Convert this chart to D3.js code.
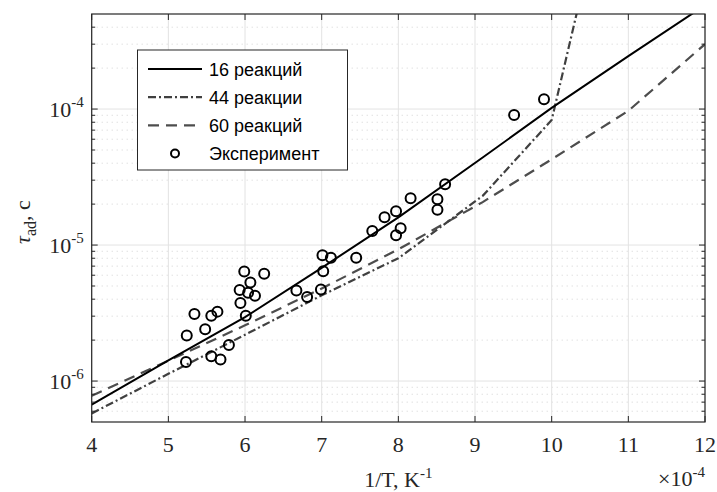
<!DOCTYPE html>
<html>
<head>
<meta charset="utf-8">
<script src="https://d3js.org/d3.v7.min.js"></script>
<style>
  body { margin: 0; background: #fff; }
</style>
</head>
<body>
<svg id="vis"></svg>
<script>
  // model curves, 1/T in units of 1e-4 K^-1, tau in seconds
  var xNodes = [4, 5, 6, 7, 8, 9.1, 10, 11, 12]
  var tau16 = [6.7e-7, 1.42e-6, 2.95e-6, 6.8e-6, 1.6e-5, 4.4e-5, 1.02e-4, 2.45e-4, 5.8e-4]
  var x44 = [4, 5, 6, 7, 8, 9.1, 10, 11]
  var tau44 = [5.78e-7, 1.13e-6, 2.19e-6, 4.27e-6, 8.0e-6, 2.3e-5, 8.3e-5, 2.1e-2]
  var tau60 = [7.8e-7, 1.41e-6, 2.57e-6, 4.79e-6, 9.3e-6, 2.07e-5, 4.27e-5, 9.7e-5, 3.0e-4]

  // experiment
  var expX = [5.23, 5.24, 5.34, 5.48, 5.56, 5.56, 5.64, 5.68, 5.79, 5.94, 5.93, 5.99,
              6.01, 6.04, 6.07, 6.13, 6.25, 6.67, 6.81, 6.99, 7.01, 7.02, 7.12, 7.45,
              7.66, 7.82, 7.97, 7.97, 8.03, 8.16, 8.51, 8.51, 8.61, 9.51, 9.90]
  var expY = [1.38e-6, 2.16e-6, 3.11e-6, 2.40e-6, 1.52e-6, 3.02e-6, 3.24e-6, 1.44e-6, 1.84e-6, 3.75e-6, 4.67e-6, 6.40e-6,
              3.02e-6, 4.46e-6, 5.30e-6, 4.24e-6, 6.15e-6, 4.63e-6, 4.15e-6, 4.72e-6, 8.43e-6, 6.43e-6, 8.07e-6, 8.07e-6,
              1.27e-5, 1.60e-5, 1.77e-5, 1.18e-5, 1.33e-5, 2.21e-5, 2.17e-5, 1.82e-5, 2.80e-5, 9.05e-5, 1.18e-4]

  var xTicks = [4, 5, 6, 7, 8, 9, 10, 11, 12]
  var yTicks = [1e-6, 1e-5, 1e-4]
  var yExp = ['-6', '-5', '-4']
  var legendLabels = ['16 реакций', '44 реакции', '60 реакций', 'Эксперимент']

  var W = 717, H = 492
  var m = {left: 91.7, right: 12, top: 14, bottom: 70}
  var serif = 'Liberation Serif, Times New Roman, serif'
  var sans = 'Liberation Sans, Arial, sans-serif'
  var axisColor = '#262626'

  var svg = d3.select('#vis').attr('width', W).attr('height', H)

  var x = d3.scaleLinear().domain([4, 12]).range([m.left, W - m.right])
  var y = d3.scaleLog().domain([5e-7, 5e-4]).range([H - m.bottom, m.top])

  svg.append('clipPath').attr('id', 'clip')
    .append('rect')
    .attr('x', m.left).attr('y', m.top)
    .attr('width', W - m.left - m.right).attr('height', H - m.top - m.bottom)

  // minor grid (y, log)
  var minor = []
  ;[1e-7, 1e-6, 1e-5, 1e-4].forEach(function(d) {
    for (var k = 2; k <= 9; k++) {
      var v = d * k
      if (v > 5e-7 && v < 5e-4) minor.push(v)
    }
  })

  svg.selectAll('.minor').data(minor).enter().append('line')
    .attr('x1', m.left).attr('x2', W - m.right)
    .attr('y1', d => y(d)).attr('y2', d => y(d))
    .attr('stroke', '#c8c8c8').attr('stroke-width', 0.8)
    .attr('stroke-dasharray', '1,4')

  svg.selectAll('.xgrid').data(xTicks).enter().append('line')
    .attr('x1', d => x(d)).attr('x2', d => x(d))
    .attr('y1', m.top).attr('y2', H - m.bottom)
    .attr('stroke', '#e3e3e3').attr('stroke-width', 1)

  svg.selectAll('.ygrid').data(yTicks).enter().append('line')
    .attr('x1', m.left).attr('x2', W - m.right)
    .attr('y1', d => y(d)).attr('y2', d => y(d))
    .attr('stroke', '#e3e3e3').attr('stroke-width', 1)

  // lines
  var plot = svg.append('g').attr('clip-path', 'url(#clip)')
  var line = d3.line().x(d => x(d[0])).y(d => y(d[1]))

  plot.append('path').datum(d3.zip(xNodes, tau60))
    .attr('d', line).attr('fill', 'none')
    .attr('stroke', '#4d4d4d').attr('stroke-width', 2.2)
    .attr('stroke-dasharray', '11,7')

  plot.append('path').datum(d3.zip(x44, tau44))
    .attr('d', line).attr('fill', 'none')
    .attr('stroke', '#404040').attr('stroke-width', 2.2)
    .attr('stroke-dasharray', '8,3,2,3')

  plot.append('path').datum(d3.zip(xNodes, tau16))
    .attr('d', line).attr('fill', 'none')
    .attr('stroke', '#000').attr('stroke-width', 2)

  plot.selectAll('circle').data(d3.zip(expX, expY)).enter().append('circle')
    .attr('cx', d => x(d[0])).attr('cy', d => y(d[1]))
    .attr('r', 5).attr('fill', 'none')
    .attr('stroke', '#000').attr('stroke-width', 2)

  // box + ticks
  svg.append('rect')
    .attr('x', m.left).attr('y', m.top)
    .attr('width', W - m.left - m.right).attr('height', H - m.top - m.bottom)
    .attr('fill', 'none').attr('stroke', axisColor).attr('stroke-width', 1.2)

  xTicks.forEach(function(t) {
    svg.append('line').attr('x1', x(t)).attr('x2', x(t))
      .attr('y1', H - m.bottom).attr('y2', H - m.bottom - 6)
      .attr('stroke', axisColor)
    svg.append('line').attr('x1', x(t)).attr('x2', x(t))
      .attr('y1', m.top).attr('y2', m.top + 6)
      .attr('stroke', axisColor)
    svg.append('text').attr('x', x(t)).attr('y', 452)
      .attr('text-anchor', 'middle')
      .attr('font-family', serif).attr('font-size', 22).attr('fill', axisColor)
      .text(t)
  })

  yTicks.concat(minor).forEach(function(t) {
    var len = yTicks.indexOf(t) >= 0 ? 6 : 3.5
    svg.append('line').attr('x1', m.left).attr('x2', m.left + len)
      .attr('y1', y(t)).attr('y2', y(t)).attr('stroke', axisColor)
    svg.append('line').attr('x1', W - m.right).attr('x2', W - m.right - len)
      .attr('y1', y(t)).attr('y2', y(t)).attr('stroke', axisColor)
  })

  yTicks.forEach(function(t, i) {
    var tx = svg.append('text').attr('x', m.left - 8).attr('y', y(t) + 8)
      .attr('text-anchor', 'end')
      .attr('font-family', serif).attr('font-size', 22).attr('fill', axisColor)
    tx.append('tspan').text('10')
    tx.append('tspan').attr('dy', -10).attr('font-size', 15).text(yExp[i])
  })

  // axis labels
  var xl = svg.append('text').attr('x', (m.left + W - m.right) / 2).attr('y', 487)
    .attr('text-anchor', 'middle')
    .attr('font-family', serif).attr('font-size', 22).attr('fill', axisColor)
  xl.append('tspan').text('1/T, K')
  xl.append('tspan').attr('dy', -9).attr('font-size', 15).text('-1')

  var ex = svg.append('text').attr('x', W - m.right).attr('y', 486)
    .attr('text-anchor', 'end')
    .attr('font-family', serif).attr('font-size', 22).attr('fill', axisColor)
  ex.append('tspan').text('\u00d710')
  ex.append('tspan').attr('dy', -9).attr('font-size', 15).text('-4')

  var yl = svg.append('text')
    .attr('transform', 'translate(30,' + ((m.top + H - m.bottom) / 2 + 4) + ') rotate(-90)')
    .attr('text-anchor', 'middle')
    .attr('font-family', serif).attr('font-size', 22).attr('fill', axisColor)
  yl.append('tspan').attr('font-style', 'italic').text('\u03c4')
  yl.append('tspan').attr('dy', 6).attr('font-size', 16).text('ad')
  yl.append('tspan').attr('dy', -6).text(', c')

  // legend
  var lg = svg.append('g')
  lg.append('rect').attr('x', 137.5).attr('y', 50).attr('width', 210).attr('height', 120)
    .attr('fill', '#fff').attr('stroke', axisColor).attr('stroke-width', 1)

  var rowY = d3.scaleLinear().domain([0, 3]).range([69, 153.5])
  var lgStyles = [
    {stroke: '#000', dash: null},
    {stroke: '#404040', dash: '8,3,2,3'},
    {stroke: '#4d4d4d', dash: '11,7'}
  ]
  lgStyles.forEach(function(s, i) {
    lg.append('line').attr('x1', 148).attr('x2', 202)
      .attr('y1', rowY(i)).attr('y2', rowY(i))
      .attr('stroke', s.stroke).attr('stroke-width', 2.2)
      .attr('stroke-dasharray', s.dash)
  })
  lg.append('circle').attr('cx', 175).attr('cy', rowY(3)).attr('r', 4)
    .attr('fill', 'none').attr('stroke', '#000').attr('stroke-width', 2)

  lg.selectAll('.lt').data(legendLabels).enter().append('text')
    .attr('x', 209).attr('y', (d, i) => rowY(i) + 6.5)
    .attr('font-family', sans).attr('font-size', 18).attr('fill', '#000')
    .text(d => d)
</script>
</body>
</html>
